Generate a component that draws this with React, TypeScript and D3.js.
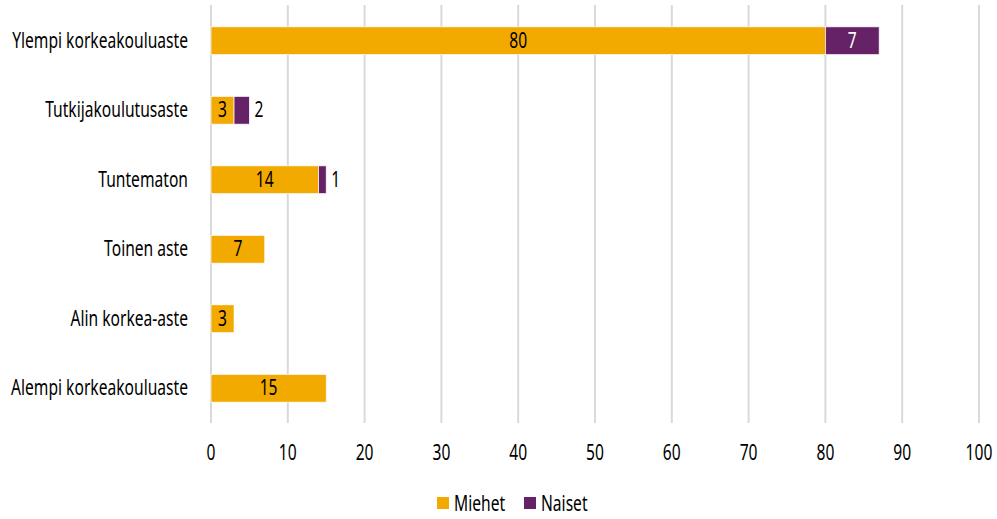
import React from "react";
import * as d3 from "d3";

const categories = [
  "Ylempi korkeakouluaste",
  "Tutkijakoulutusaste",
  "Tuntematon",
  "Toinen aste",
  "Alin korkea-aste",
  "Alempi korkeakouluaste",
];
const miehet = [80, 3, 14, 7, 3, 15];
const naiset = [7, 2, 1, 0, 0, 0];
const xTicks = [0, 10, 20, 30, 40, 50, 60, 70, 80, 90, 100];
const seriesNames = ["Miehet", "Naiset"];
const colors = ["#F2A900", "#662266"];

const FONT = "'Noto Sans', 'DejaVu Sans', sans-serif";
const FS = 22;
const SX = 0.71;

function T({
  x,
  y,
  anchor = "start",
  fill = "#000",
  children,
}: {
  x: number;
  y: number;
  anchor?: string;
  fill?: string;
  children: React.ReactNode;
}) {
  return (
    <g transform={`translate(${x},${y}) scale(${SX},1)`}>
      <text x={0} y={0} textAnchor={anchor as any} fontSize={FS} fill={fill} fontFamily={FONT}>
        {children}
      </text>
    </g>
  );
}

export default function App() {
  const W = 997;
  const H = 519;
  const x = d3.scaleLinear().domain([0, 100]).range([211, 979]);
  const y = d3
    .scaleBand<string>()
    .domain(categories)
    .range([6, 423])
    .paddingInner(0.6)
    .paddingOuter(0.3);
  const bw = y.bandwidth();

  return (
    <svg width={W} height={H} style={{ position: "absolute", left: 0, top: 0 }}>
      <rect width={W} height={H} fill="#fff" />
      {xTicks.map((t) => (
        <g key={t}>
          <line x1={x(t)} x2={x(t)} y1={5} y2={423} stroke="#d9d9d9" strokeWidth={2} />
          <T x={x(t)} y={460} anchor="middle">
            {t}
          </T>
        </g>
      ))}
      {categories.map((c, i) => {
        const y0 = y(c)!;
        const cy = y0 + bw / 2;
        const m = miehet[i];
        const n = naiset[i];
        const mw = x(m) - x(0);
        const nw = x(m + n) - x(m);
        return (
          <g key={c}>
            <T x={188} y={cy + 7} anchor="end">
              {c}
            </T>
            {m > 0 && (
              <rect x={x(0)} y={y0} width={mw} height={bw} fill={colors[0]} stroke="#fff" strokeWidth={0.7} />
            )}
            {m > 0 && (
              <T x={x(0) + mw / 2} y={cy + 7} anchor="middle">
                {m}
              </T>
            )}
            {n > 0 && (
              <rect x={x(m)} y={y0} width={nw} height={bw} fill={colors[1]} stroke="#fff" strokeWidth={0.7} />
            )}
            {n > 0 &&
              (nw > 25 ? (
                <T x={x(m) + nw / 2} y={cy + 7} anchor="middle" fill="#fff">
                  {n}
                </T>
              ) : (
                <T x={x(m + n) + 5} y={cy + 7}>
                  {n}
                </T>
              ))}
          </g>
        );
      })}
      {seriesNames.map((s, i) => {
        const lx = i === 0 ? 437 : 524;
        return (
          <g key={s}>
            <rect x={lx} y={497} width={12} height={12} fill={colors[i]} />
            <T x={lx + 17} y={511}>
              {s}
            </T>
          </g>
        );
      })}
    </svg>
  );
}
